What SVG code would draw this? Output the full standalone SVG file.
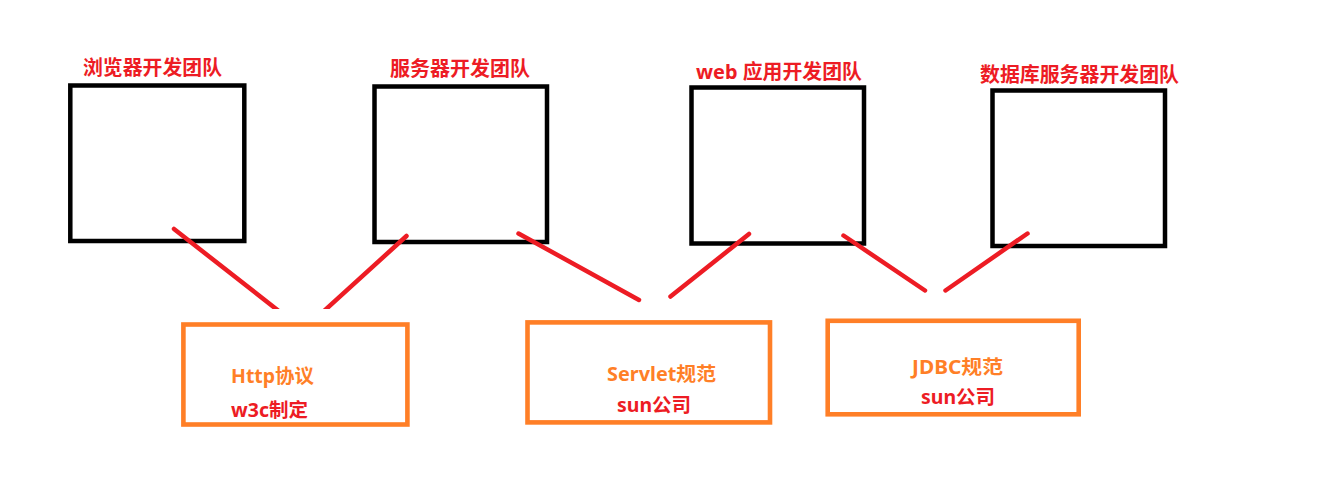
<svg xmlns="http://www.w3.org/2000/svg" width="1327" height="501" viewBox="0 0 1327 501">
<defs>
<style>
.team{fill:none;stroke:#000;stroke-width:4.5}
.spec{fill:none;stroke:#ff7f27;stroke-width:4.6}
.title{font-family:"Noto Sans","Noto Sans CJK SC",sans-serif;font-weight:bold;font-size:20px;fill:#ed1c24}
.lbl{font-family:"Noto Sans","Noto Sans CJK SC",sans-serif;font-weight:bold;font-size:19px}
.or{fill:#ff7f27}
.rd{fill:#ed1c24}
.conn{stroke:#ed1c24;stroke-width:4.5;stroke-linecap:round;fill:none}
</style>
<clipPath id="clipTop"><rect x="0" y="0" width="1327" height="309"/></clipPath>
</defs>
<rect width="1327" height="501" fill="#fff"/>
<g id="browser-team">
<rect class="team" x="70.3" y="85.5" width="174" height="155.5"/>
<text class="title" x="83" y="75" textLength="139" lengthAdjust="spacingAndGlyphs">浏览器开发团队</text>
</g>
<g id="server-team">
<rect class="team" x="374.5" y="86.5" width="172.5" height="155.5"/>
<text class="title" x="390" y="76" textLength="140" lengthAdjust="spacingAndGlyphs">服务器开发团队</text>
</g>
<g id="webapp-team">
<rect class="team" x="691.5" y="87.5" width="172.5" height="156"/>
<text class="title" x="696" y="79" textLength="166" lengthAdjust="spacingAndGlyphs">web 应用开发团队</text>
</g>
<g id="db-team">
<rect class="team" x="992.5" y="90.5" width="172.5" height="155.5"/>
<text class="title" x="980" y="82" textLength="199" lengthAdjust="spacingAndGlyphs">数据库服务器开发团队</text>
</g>
<g id="http-spec">
<rect class="spec" x="183.4" y="324.5" width="224" height="100"/>
<text class="lbl or" x="231" y="382.5" textLength="83" lengthAdjust="spacingAndGlyphs">Http协议</text>
<text class="lbl rd" x="231" y="417" textLength="77" lengthAdjust="spacingAndGlyphs">w3c制定</text>
</g>
<g id="servlet-spec">
<rect class="spec" x="527.5" y="322.4" width="242.5" height="100"/>
<text class="lbl or" x="607" y="381" textLength="109" lengthAdjust="spacingAndGlyphs">Servlet规范</text>
<text class="lbl rd" x="617" y="411.5" textLength="74" lengthAdjust="spacingAndGlyphs">sun公司</text>
</g>
<g id="jdbc-spec">
<rect class="spec" x="827.7" y="320.8" width="251" height="93.5"/>
<text class="lbl or" x="912" y="374" textLength="91" lengthAdjust="spacingAndGlyphs">JDBC规范</text>
<text class="lbl rd" x="921" y="404.3" textLength="74" lengthAdjust="spacingAndGlyphs">sun公司</text>
</g>
<g id="connectors">
<g clip-path="url(#clipTop)">
<line class="conn" x1="174" y1="229" x2="280" y2="312"/>
<line class="conn" x1="406.5" y1="236" x2="324" y2="311"/>
</g>
<line class="conn" x1="518.5" y1="233.5" x2="639" y2="300"/>
<line class="conn" x1="749" y1="234" x2="670.5" y2="296.5"/>
<line class="conn" x1="843.5" y1="235.5" x2="925" y2="290.5"/>
<line class="conn" x1="1027.5" y1="233.5" x2="945.5" y2="290.5"/>
</g>
</svg>
